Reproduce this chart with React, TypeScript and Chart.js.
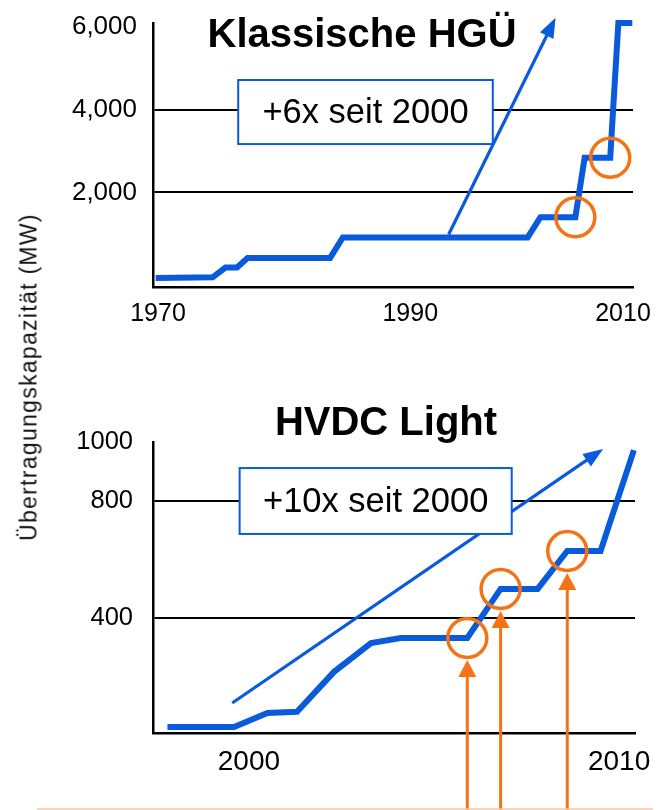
import React, { useEffect, useRef } from 'react';
import { Chart, registerables } from 'chart.js';

Chart.register(...registerables);

const FONT = '"Liberation Sans", Arial, Helvetica, sans-serif';
const BLUE = '#0A5BDB';
const ORANGE = '#F57215';
const PEACH = '#F9C6A0';

Chart.defaults.font.family = FONT;

// ---------- Top panel: Klassische HGÜ ----------
const HGUE_TITLE = 'Klassische HGÜ';
const HGUE_YEARS = [1969.8, 1974.7, 1975.8, 1976.8, 1977.7, 1984.8, 1985.9, 2001.8, 2002.9, 2005.9, 2006.7, 2008.9, 2009.6, 2010.8];
const HGUE_MW = [-75, -55, 180, 180, 410, 410, 910, 910, 1400, 1400, 2840, 2840, 6100, 6100];
const HGUE_HIGHLIGHTS = [9, 11];
const HGUE_Y_TICKS = [2000, 4000, 6000];
const HGUE_Y_GRID = [2000, 4000];
const HGUE_X_TICK_AT = [1970, 1991.7, 2010];
const HGUE_X_LABELS = ['1970', '1990', '2010'];
const HGUE_NOTE = '+6x seit 2000';
const HGUE_NOTE_X = [1976.9, 1998.8];
const HGUE_NOTE_Y = [3170, 4720];
const HGUE_TREND_X = [1995.0, 2004.2];
const HGUE_TREND_Y = [980, 6230];

// ---------- Bottom panel: HVDC Light ----------
const HVDC_TITLE = 'HVDC Light';
const HVDC_YEARS = [1997.8, 1999.6, 2000.5, 2001.3, 2002.3, 2003.3, 2004.1, 2005.9, 2006.8, 2007.8, 2008.6, 2009.5, 2010.4];
const HVDC_MW = [30, 30, 78, 82, 218, 316, 333, 333, 500, 500, 629, 629, 972];
const HVDC_HIGHLIGHTS = [7, 8, 10];
const HVDC_Y_TICKS = [400, 800, 1000];
const HVDC_Y_GRID = [400, 800];
const HVDC_X_TICK_AT = [2000, 2010];
const HVDC_X_LABELS = ['2000', '2010'];
const HVDC_NOTE = '+10x seit 2000';
const HVDC_NOTE_X = [1999.75, 2007.1];
const HVDC_NOTE_Y = [687, 911];
const HVDC_TREND_X = [1999.55, 2009.57];
const HVDC_TREND_Y = [112, 976];

const AXIS_LABEL = 'Übertragungskapazität (MW)';

const TOP_PANEL = {
  title: HGUE_TITLE, titleX: 362, titleY: 47,
  years: HGUE_YEARS, mw: HGUE_MW, highlights: HGUE_HIGHLIGHTS, arrows: [] as number[],
  yTicks: HGUE_Y_TICKS, yGrid: HGUE_Y_GRID, xTickAt: HGUE_X_TICK_AT, xLabels: HGUE_X_LABELS,
  note: HGUE_NOTE, noteX: HGUE_NOTE_X, noteY: HGUE_NOTE_Y, trendX: HGUE_TREND_X, trendY: HGUE_TREND_Y,
  xMin: 1969.57, xMax: 2010.86, yMin: -290, yMax: 6100,
  padding: { top: 15.4, right: 25, bottom: 0, left: 0 },
  xAxisH: 43, xFont: 25, yFont: 26, yPad: 16,
  yFormat: (v: number) => Number(v).toLocaleString('en-US'),
  rule: false,
};

const BOTTOM_PANEL = {
  title: HVDC_TITLE, titleX: 386, titleY: 105,
  years: HVDC_YEARS, mw: HVDC_MW, highlights: HVDC_HIGHLIGHTS, arrows: HVDC_HIGHLIGHTS,
  yTicks: HVDC_Y_TICKS, yGrid: HVDC_Y_GRID, xTickAt: HVDC_X_TICK_AT, xLabels: HVDC_X_LABELS,
  note: HVDC_NOTE, noteX: HVDC_NOTE_X, noteY: HVDC_NOTE_Y, trendX: HVDC_TREND_X, trendY: HVDC_TREND_Y,
  xMin: 1997.41, xMax: 2010.43, yMin: 10, yMax: 1000,
  padding: { top: 111.9, right: 22, bottom: 0, left: 0 },
  xAxisH: 77, xFont: 28, yFont: 25.5, yPad: 20,
  yFormat: (v: number) => String(v),
  rule: true,
};

function drawArrow(ctx: CanvasRenderingContext2D, x1: number, y1: number, x2: number, y2: number,
  color: string, lw: number, headLen: number, headW: number) {
  const ang = Math.atan2(y2 - y1, x2 - x1);
  const bx = x2 - headLen * Math.cos(ang);
  const by = y2 - headLen * Math.sin(ang);
  ctx.strokeStyle = color;
  ctx.lineWidth = lw;
  ctx.lineCap = 'butt';
  ctx.beginPath();
  ctx.moveTo(x1, y1);
  ctx.lineTo(bx + Math.cos(ang), by + Math.sin(ang));
  ctx.stroke();
  ctx.fillStyle = color;
  ctx.beginPath();
  ctx.moveTo(x2, y2);
  ctx.lineTo(bx + (headW / 2) * Math.sin(ang), by - (headW / 2) * Math.cos(ang));
  ctx.lineTo(bx - (headW / 2) * Math.sin(ang), by + (headW / 2) * Math.cos(ang));
  ctx.closePath();
  ctx.fill();
}

function annotPlugin(p: any) {
  return {
    id: 'annot',
    afterDatasetsDraw(chart: any) {
      const { ctx } = chart;
      const x = chart.scales.x;
      const y = chart.scales.y;
      ctx.save();
      drawArrow(ctx,
        x.getPixelForValue(p.trendX[0]), y.getPixelForValue(p.trendY[0]),
        x.getPixelForValue(p.trendX[1]), y.getPixelForValue(p.trendY[1]),
        BLUE, 3.2, 20, 15);
      const bx0 = x.getPixelForValue(p.noteX[0]);
      const bx1 = x.getPixelForValue(p.noteX[1]);
      const by0 = y.getPixelForValue(p.noteY[1]);
      const by1 = y.getPixelForValue(p.noteY[0]);
      ctx.fillStyle = '#ffffff';
      ctx.fillRect(bx0, by0, bx1 - bx0, by1 - by0);
      ctx.strokeStyle = BLUE;
      ctx.lineWidth = 2;
      ctx.strokeRect(bx0, by0, bx1 - bx0, by1 - by0);
      ctx.fillStyle = '#000';
      ctx.font = `34.5px ${FONT}`;
      ctx.textAlign = 'center';
      ctx.textBaseline = 'middle';
      ctx.fillText(p.note, (bx0 + bx1) / 2, (by0 + by1) / 2 + 1);
      ctx.restore();
    },
    afterDraw(chart: any) {
      const { ctx } = chart;
      const x = chart.scales.x;
      const y = chart.scales.y;
      ctx.save();
      ctx.fillStyle = '#000';
      ctx.font = `bold 40px ${FONT}`;
      ctx.textAlign = 'center';
      ctx.textBaseline = 'alphabetic';
      ctx.fillText(p.title, p.titleX, p.titleY);
      p.arrows.forEach((i: number) => {
        const px = x.getPixelForValue(p.years[i]);
        const py = y.getPixelForValue(p.mw[i]) + 22;
        drawArrow(ctx, px, chart.height, px, py, ORANGE, 3, 17, 18);
      });
      if (p.rule) {
        ctx.strokeStyle = PEACH;
        ctx.lineWidth = 1.6;
        ctx.beginPath();
        ctx.moveTo(37, chart.height - 1);
        ctx.lineTo(653, chart.height - 1);
        ctx.stroke();
      }
      ctx.restore();
    },
  };
}

function zeroPad(s: any) {
  s.paddingLeft = 0;
  s.paddingRight = 0;
  s.paddingTop = 0;
  s.paddingBottom = 0;
}

function makeChart(canvas: HTMLCanvasElement, p: any) {
  return new Chart(canvas, {
    type: 'line',
    data: {
      datasets: [
        {
          data: p.highlights.map((i: number) => ({ x: p.years[i], y: p.mw[i] })),
          showLine: false,
          pointRadius: 19.5,
          pointBorderWidth: 3.5,
          pointBorderColor: ORANGE,
          pointBackgroundColor: 'rgba(0,0,0,0)',
          clip: false,
        },
        {
          data: p.years.map((xv: number, i: number) => ({ x: xv, y: p.mw[i] })),
          borderColor: BLUE,
          borderWidth: 6,
          pointRadius: 0,
          tension: 0,
          fill: false,
          borderJoinStyle: 'miter',
          clip: false,
        },
      ],
    } as any,
    options: {
      animation: false,
      responsive: false,
      events: [],
      layout: { padding: p.padding },
      plugins: {
        legend: { display: false },
        tooltip: { enabled: false },
        title: { display: false },
      },
      scales: {
        x: {
          type: 'linear',
          min: p.xMin,
          max: p.xMax,
          grid: { display: false, drawTicks: false },
          border: { display: true, color: '#000', width: 2.5 },
          afterBuildTicks: (s: any) => { s.ticks = p.xTickAt.map((v: number) => ({ value: v })); },
          ticks: {
            autoSkip: false, maxRotation: 0, minRotation: 0, color: '#000',
            font: { family: FONT, size: p.xFont }, padding: 12,
            callback: (_v: any, i: number) => p.xLabels[i],
          },
          afterFit: (s: any) => { s.height = p.xAxisH; zeroPad(s); },
        },
        y: {
          type: 'linear',
          min: p.yMin,
          max: p.yMax,
          grid: {
            drawTicks: false,
            lineWidth: 2,
            color: (c: any) => (c.tick && p.yGrid.includes(c.tick.value) ? '#000' : 'rgba(0,0,0,0)'),
          },
          border: { display: true, color: '#000', width: 2.5 },
          afterBuildTicks: (s: any) => { s.ticks = p.yTicks.map((v: number) => ({ value: v })); },
          ticks: {
            autoSkip: false, color: '#000',
            font: { family: FONT, size: p.yFont }, padding: p.yPad,
            callback: (v: any) => p.yFormat(v),
          },
          afterFit: (s: any) => { s.width = 153; zeroPad(s); },
        },
      },
    } as any,
    plugins: [annotPlugin(p)],
  });
}

function Panel({ p, top, height }: { p: any; top: number; height: number }) {
  const ref = useRef<HTMLCanvasElement | null>(null);
  useEffect(() => {
    if (!ref.current) return;
    const c = makeChart(ref.current, p);
    return () => c.destroy();
  }, [p]);
  return (
    <canvas
      ref={ref}
      width={658}
      height={height}
      style={{ position: 'absolute', left: 0, top, width: 658, height, display: 'block' }}
    />
  );
}

export default function App() {
  return (
    <div style={{ position: 'absolute', left: 0, top: 0, width: 658, height: 810, background: '#fff', overflow: 'hidden' }}>
      <Panel p={TOP_PANEL} top={0} height={330} />
      <Panel p={BOTTOM_PANEL} top={330} height={480} />
      <div
        style={{
          position: 'absolute', left: 29, top: 377,
          transform: 'translate(-50%, -50%) rotate(-90deg)',
          fontFamily: FONT, fontSize: 23, letterSpacing: '1.3px',
          whiteSpace: 'nowrap', lineHeight: 1, color: '#111',
        }}
      >
        {AXIS_LABEL}
      </div>
    </div>
  );
}
